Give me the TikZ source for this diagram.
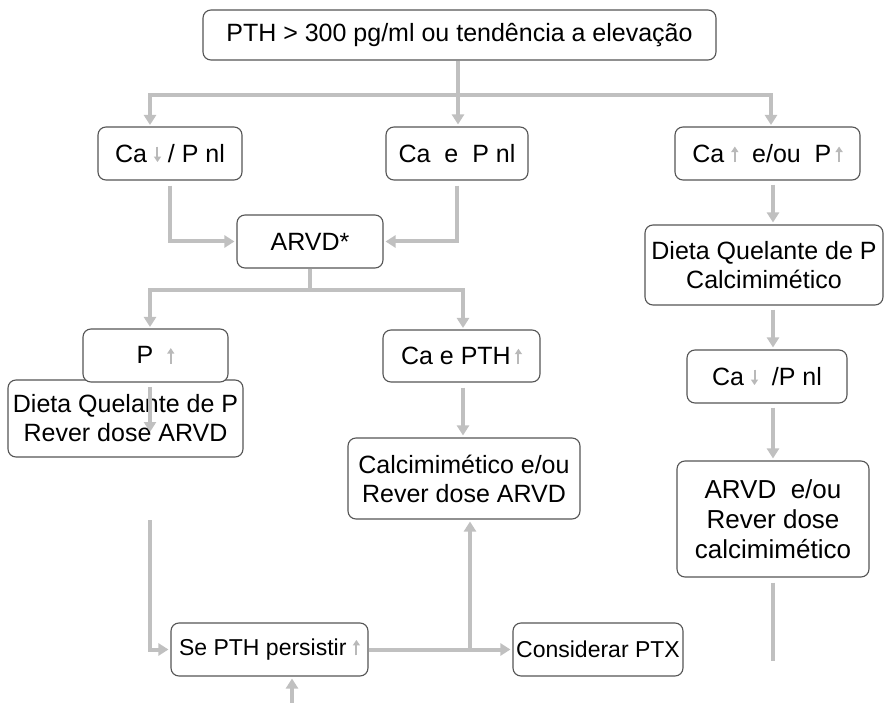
\documentclass[tikz,border=0pt]{standalone}
\usepackage{fontspec}
\setmainfont{Liberation Sans}
\usetikzlibrary{arrows.meta}
\definecolor{linkc}{RGB}{192,192,192}
\definecolor{edgec}{RGB}{85,85,85}
\definecolor{markc}{RGB}{185,185,185}
% small grey trend arrows used inside the texts
\newcommand\upmark{\tikz[baseline=0pt,x=1pt,y=1pt]\draw[markc,line width=2pt,-{Triangle[width=7pt,length=5.5pt]}] (0,0) -- (0,15.5);}
\newcommand\downmark{\tikz[baseline=0pt,x=1pt,y=1pt]\draw[markc,line width=2pt,-{Triangle[width=7pt,length=5.5pt]}] (0,15.5) -- (0,0);}
\tikzset{
  box/.style={draw=edgec, line width=1.1pt, rounded corners=8pt, fill=white,
    align=center, inner sep=0pt, font=\fontsize{25}{29}\selectfont},
  smalltext/.style={font=\fontsize{23}{27}\selectfont},
  conn/.style={draw=linkc, line width=4pt},
  flow/.style={conn, -{Triangle[width=12pt,length=10pt]}, shorten >=2pt},
}
\begin{document}
\begin{tikzpicture}[x=1pt,y=-1pt]
\useasboundingbox (0,0) rectangle (884,703);

% boxes
\node[box, minimum width=513, minimum height=50] (top) at (459.5,35) {PTH > 300 pg/ml ou tendência a elevação};
\node[box, minimum width=144, minimum height=53] (c1) at (170,153.5) {Ca\ \downmark\ / P nl};
\node[box, minimum width=142, minimum height=53] (c2) at (457,153.5) {Ca\ \ e\ \ P nl};
\node[box, minimum width=185, minimum height=53] (c3) at (767.5,153.5) {Ca\ \upmark\ \ e/ou\ \ P\,\upmark};
\node[box, minimum width=146, minimum height=53] (arvd) at (310,241.5) {ARVD*};
\node[box, minimum width=235, minimum height=77] (dl) at (125.5,418.5) {Dieta Quelante de P\\Rever dose ARVD};
\node[box, minimum width=145, minimum height=53] (pup) at (155.5,355.5) {P\ \ \upmark};
\node[box, minimum width=157, minimum height=52] (cap) at (461.5,356) {Ca e PTH\,\upmark};
\node[box, minimum width=232, minimum height=81] (calc) at (464,478.5) {Calcimimético e/ou\\Rever dose ARVD};
\node[box, minimum width=238, minimum height=80] (dr) at (764,265) {Dieta Quelante de P\\Calcimimético};
\node[box, minimum width=160, minimum height=53] (cr) at (767,376.5) {Ca\ \downmark\ \ /P nl};
\node[box, font=\fontsize{26}{30}\selectfont, minimum width=192, minimum height=116] (ar) at (773,519) {ARVD\ \ e/ou\\Rever dose\\calcimimético};
\node[box, smalltext, minimum width=197, minimum height=53] (se) at (269.5,649.5) {Se PTH persistir\ \upmark};
\node[box, smalltext, minimum width=170, minimum height=53] (ptx) at (598,649.5) {Considerar PTX};

% junctions and free ends
\coordinate (j0) at (458,95);
\coordinate (j1) at (310,290);
\coordinate (jb) at (470,649.5);
\coordinate (lf) at (150,520);
\coordinate (bf) at (292,703);
\coordinate (rc) at (773,0);

% top split
\draw[conn] (top.south -| j0) -- (j0);
\draw[flow] (j0) -| (150,127);
\draw[flow] (j0) -- (j0 |- c2.north);
\draw[flow] (j0) -| (771,127);

% into ARVD*
\draw[flow, shorten <=5pt] (c1.south) |- (arvd.west);
\draw[flow, shorten <=5pt] (c2.south) |- (arvd.east);

% ARVD* split
\draw[conn] (arvd.south) -- (j1);
\draw[flow] (j1) -| (150,329);
\draw[flow] (j1) -| (463,330);

% left and middle columns
\draw[flow, shorten <=5pt] (150,382) -- (150,434);
\draw[flow, shorten <=5pt] (cap.south -| 463,0) -- (calc.north -| 463,0);
\draw[flow] (lf) |- (se.west);
\draw[flow] (se.east) -- (ptx.west);
\draw[flow] (jb) -- (jb |- calc.south);
\draw[flow] (bf) -- (bf |- se.south);

% right column
\draw[flow, shorten <=4pt] (c3.south -| rc) -- (dr.north -| rc);
\draw[flow, shorten <=4pt] (dr.south -| rc) -- (cr.north -| rc);
\draw[flow, shorten <=4pt] (cr.south -| rc) -- (ar.north -| rc);
\draw[conn, shorten <=5pt] (ar.south -| rc) -- (773,661);
\end{tikzpicture}
\end{document}
